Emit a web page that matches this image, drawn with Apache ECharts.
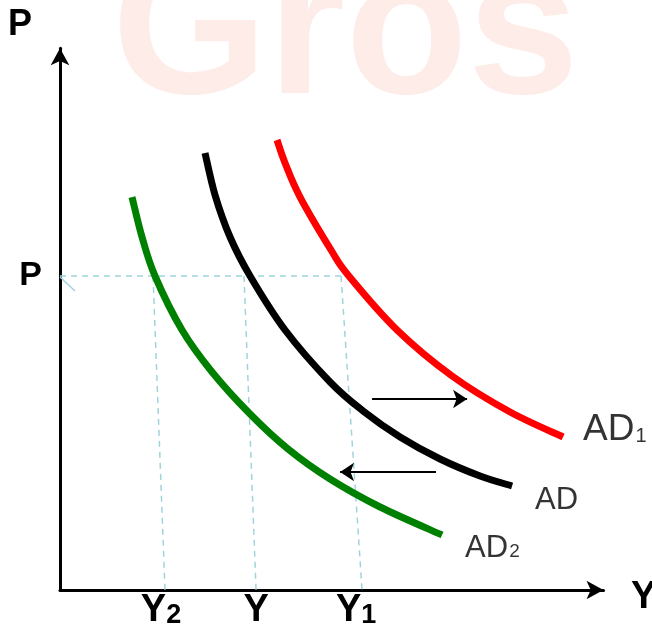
<!DOCTYPE html>
<html>
<head>
<meta charset="utf-8">
<script src="https://cdn.jsdelivr.net/npm/echarts@6/dist/echarts.min.js"></script>
<style>
html,body{margin:0;padding:0;background:#ffffff;}
#c{width:652px;height:625px;}
</style>
</head>
<body>
<div id="c"></div>
<script>
// ---- data (chart units: x = output Y, y = price level P) ----
const curveAD2 = [[13.09,71.45],[14.91,64.18],[17.27,57.09],[22.18,47.27],[27.64,39.64],[34.55,32.0],[41.45,25.64],[49.09,20.18],[58.18,15.09],[69.45,10.0]];
const curveAD  = [[26.36,79.45],[28.18,71.82],[30.91,64.18],[34.55,57.09],[40.91,47.27],[49.09,37.82],[55.09,32.55],[61.82,27.82],[69.09,23.82],[76.36,20.73],[82.18,18.91]];
const curveAD1 = [[39.45,81.82],[40.91,77.64],[43.64,71.45],[49.27,61.82],[52.36,57.27],[61.27,47.27],[71.27,38.91],[81.82,32.36],[91.45,27.82]];

const priceLevel = 57.09;
const guideTops = [16.91, 33.45, 51.09];      // where vertical guides meet the P line
const guideBottoms = [19.09, 35.64, 54.91];   // where vertical guides meet the Y axis
const guideEndX = 51.09;

const xTickValues = [18.36, 35.64, 53.82];
const xTickMain = ['Y', 'Y', 'Y'];
const xTickSub = ['2', '', '1'];
const yTickValues = [priceLevel];
const yTickLabels = ['P'];

const shiftRight = [[56.73,34.73],[74.0,34.73]];
const shiftLeft  = [[68.36,21.45],[50.91,21.45]];

const curveLabelPos = [[95.09,29.09],[86.36,16.36],[73.64,7.64]];
const curveLabelMain = ['AD', 'AD', 'AD'];
const curveLabelSub = ['1', '', '2'];
const curveLabelSize = [37, 31, 31];
const curveLabelSubSize = [20, 19, 19];

const axisNameY = 'P';
const axisNameX = 'Y';

// ---- chart ----
const FONT = 'Liberation Sans, Arial, Helvetica, sans-serif';
const chart = echarts.init(document.getElementById('c'), null, {renderer: 'canvas'});

const guideData = [
  {coords: [[0, priceLevel], [guideEndX, priceLevel]]}
];
for (let i = 0; i < guideTops.length; i++) {
  guideData.push({coords: [[guideTops[i], priceLevel], [guideBottoms[i], 0]]});
}

const tickFormatter = function (v) {
  let best = 0, d = 1e9;
  for (let i = 0; i < xTickValues.length; i++) {
    const dd = Math.abs(xTickValues[i] - v);
    if (dd < d) { d = dd; best = i; }
  }
  return '{m|' + xTickMain[best] + '}' + (xTickSub[best] ? '{s|' + xTickSub[best] + '}' : '');
};

const labelData = curveLabelPos.map(function (p, i) {
  return {
    value: p,
    label: {
      color: '#000',
      formatter: '{m|' + curveLabelMain[i] + '}' + (curveLabelSub[i] ? '{s|' + curveLabelSub[i] + '}' : ''),
      rich: {
        m: {fontSize: curveLabelSize[i], fontFamily: FONT, color: '#000', verticalAlign: 'bottom'},
        s: {fontSize: curveLabelSubSize[i], fontFamily: FONT, color: '#000', verticalAlign: 'bottom', padding: [0, 0, 2, 1]}
      }
    }
  };
});

// Smooth curve through the data points (Catmull-Rom -> cubic Bezier), positioned by the axes.
function curveSeries(name, data, color) {
  return {
    name: name,
    type: 'custom',
    data: data,
    silent: true,
    clip: false,
    z: 5,
    encode: {x: 0, y: 1},
    renderItem: function (params, api) {
      if (params.dataIndex !== 0) return null;
      const pts = data.map(function (d) { return api.coord(d); });
      const n = pts.length;
      let path = 'M' + pts[0][0] + ' ' + pts[0][1];
      for (let i = 0; i < n - 1; i++) {
        const p0 = pts[Math.max(i - 1, 0)], p1 = pts[i], p2 = pts[i + 1], p3 = pts[Math.min(i + 2, n - 1)];
        const c1x = p1[0] + (p2[0] - p0[0]) / 6, c1y = p1[1] + (p2[1] - p0[1]) / 6;
        const c2x = p2[0] - (p3[0] - p1[0]) / 6, c2y = p2[1] - (p3[1] - p1[1]) / 6;
        path += ' C' + c1x + ' ' + c1y + ' ' + c2x + ' ' + c2y + ' ' + p2[0] + ' ' + p2[1];
      }
      return {
        type: 'path',
        shape: {pathData: path},
        style: {fill: null, stroke: color, lineWidth: 7, lineCap: 'butt', lineJoin: 'round'}
      };
    }
  };
}

const option = {
  backgroundColor: '#ffffff',
  animation: false,
  graphic: [
    {type: 'text', left: 112, top: -62, z: -10, silent: true,
     style: {text: 'Gros', fill: '#fdece7', font: 'bold 200px ' + FONT}},
    {type: 'text', left: 8, top: 7, z: 10,
     style: {text: axisNameY, fill: '#000', font: 'bold 36px ' + FONT}},
    {type: 'text', left: 631, top: 579, z: 10,
     style: {text: axisNameX, fill: '#000', font: 'bold 38px ' + FONT}}
  ],
  grid: {left: 60, right: 48.5, top: 48.25, bottom: 35, containLabel: false, outerBoundsMode: 'none'},
  xAxis: {
    type: 'value', min: 0, max: 98.8,
    splitLine: {show: false},
    axisTick: {show: false},
    axisLine: {show: true, onZero: false, symbol: ['none', 'arrow'], symbolSize: [14, 17],
               lineStyle: {color: '#000', width: 3}},
    axisLabel: {
      show: true, customValues: xTickValues, margin: 2, formatter: tickFormatter,
      rich: {
        m: {fontSize: 38, fontWeight: 'bold', fontFamily: FONT, color: '#000', verticalAlign: 'bottom'},
        s: {fontSize: 27, fontWeight: 'bold', fontFamily: FONT, color: '#000', verticalAlign: 'bottom', padding: [0, 0, 1, 0]}
      }
    }
  },
  yAxis: {
    type: 'value', min: 0, max: 98.5,
    splitLine: {show: false},
    axisTick: {show: false},
    axisLine: {show: true, onZero: false, symbol: ['none', 'arrow'], symbolSize: [14, 17],
               lineStyle: {color: '#000', width: 3}},
    axisLabel: {
      show: true, customValues: yTickValues, margin: 18,
      formatter: function () { return yTickLabels[0]; },
      fontSize: 34, fontWeight: 'bold', fontFamily: FONT, color: '#000', padding: [4, 0, 0, 0]
    }
  },
  series: [
    {
      name: 'guides', type: 'lines', coordinateSystem: 'cartesian2d', silent: true,
      polyline: false, symbol: 'none',
      lineStyle: {color: '#9fd4dd', width: 1.5, type: [6, 5], opacity: 1},
      data: guideData, z: 3
    },
    {
      name: 'tick', type: 'lines', coordinateSystem: 'cartesian2d', silent: true,
      symbol: 'none',
      lineStyle: {color: '#9fd4dd', width: 1.5, opacity: 1},
      data: [{coords: [[0, 56.9], [2.73, 54.36]]}], z: 3
    },
    curveSeries('AD2', curveAD2, '#008000'),
    curveSeries('AD', curveAD, '#000000'),
    curveSeries('AD1', curveAD1, '#ff0000'),
    {
      name: 'shifts', type: 'lines', coordinateSystem: 'cartesian2d', silent: true,
      symbol: ['none', 'arrow'], symbolSize: 14,
      lineStyle: {color: '#000', width: 2, opacity: 1},
      data: [{coords: shiftRight}, {coords: shiftLeft}], z: 6
    },
    {
      name: 'labels', type: 'scatter', symbolSize: 0, silent: true, clip: false,
      label: {show: true, position: 'right', distance: 0, color: '#000'},
      data: labelData, z: 7
    }
  ]
};
chart.setOption(option);
</script>
</body>
</html>
